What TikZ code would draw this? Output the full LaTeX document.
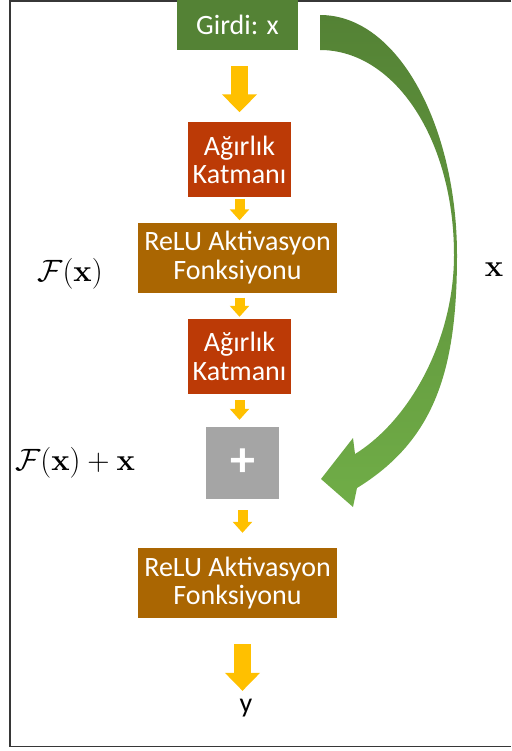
\documentclass[tikz,border=0pt]{standalone}
\usepackage{graphicx}
\usepackage[no-math]{fontspec}
\newfontfamily\boxfont{Carlito}
\usetikzlibrary{arrows.meta}

\definecolor{inputgreen}{RGB}{84,130,53}
\definecolor{skipdark}{RGB}{84,130,53}
\definecolor{skipmid}{RGB}{92,142,58}
\definecolor{skiplight}{RGB}{112,173,71}
\definecolor{weightred}{RGB}{188,58,6}
\definecolor{relubrown}{RGB}{170,102,2}
\definecolor{sumgray}{RGB}{165,165,165}
\definecolor{flowyellow}{RGB}{255,192,0}
\definecolor{framegray}{RGB}{55,55,55}

\newcommand{\biglabel}[1]{\scalebox{1.24}{\Huge$#1$}}

\tikzset{
  block/.style={rectangle, inner sep=0pt, text=white, align=center,
    font=\boxfont\fontsize{28}{28.5}\selectfont},
  inputbox/.style={block, fill=inputgreen},
  weightbox/.style={block, fill=weightred, minimum width=103pt, minimum height=75pt},
  relubox/.style={block, fill=relubrown, minimum width=199pt, minimum height=70pt},
  sumbox/.style={block, fill=sumgray, minimum width=73pt, minimum height=72pt,
    font=\boxfont\bfseries\fontsize{50}{50}\selectfont},
  mathlabel/.style={inner sep=0pt},
  outlabel/.style={inner sep=0pt, font=\boxfont\fontsize{28}{30}\selectfont},
  flowsmall/.style={draw=flowyellow, line width=10pt,
    -{Triangle[width=19pt,length=11pt]}, flowyellow},
  flowbig/.style={draw=flowyellow, line width=17pt,
    -{Triangle[width=34pt,length=18pt]}, flowyellow},
  frameline/.style={draw=framegray, line width=1.6pt},
}

\begin{document}
\begin{tikzpicture}[x=1pt,y=-1pt]
\useasboundingbox (0,0) rectangle (511,751);

% page frame (top, left and bottom edges)
\draw[frameline] (511,0.8) -- (10,0.8) -- (10,746.5) -- (511,746.5);

% main column
\node[inputbox, minimum width=121pt, minimum height=50pt] (girdi) at (237.5,25) {Girdi: x};
\node[weightbox] (ag1) at (239.5,160) {Ağırlık\\Katmanı};
\node[relubox] (relu1) at (237.5,257.5) {ReLU Aktivasyon\\Fonksiyonu};
\node[weightbox] (ag2) at (239.5,356.5) {Ağırlık\\Katmanı};
\node[sumbox] (sum) at (242.5,463) {+};
\node[relubox] (relu2) at (237.5,583) {ReLU Aktivasyon\\Fonksiyonu};
\node[outlabel] (out) at (246,708) {y};

% side labels
\node[mathlabel] (fx) at (70,274) {\biglabel{\mathcal{F}(\mathbf{x})}};
\node[mathlabel] (fxx) at (75,463) {\biglabel{\mathcal{F}(\mathbf{x})+\mathbf{x}}};
\node[mathlabel] (xlab) at (494,270) {\biglabel{\mathbf{x}}};

% block arrows between stages
\draw[flowbig, shorten <=16pt, shorten >=10pt] (girdi.south -| ag1.south) -- (ag1.north);
\draw[flowsmall, shorten <=1pt, shorten >=2pt] (ag1.south) -- (ag1.south |- relu1.north);
\draw[flowsmall, shorten <=5pt, shorten >=2pt] (relu1.south -| ag2.south) -- (ag2.north);
\draw[flowsmall, shorten <=6pt, shorten >=7pt] (ag2.south) -- (ag2.south |- sum.north);
\draw[flowsmall, shorten <=11pt, shorten >=15pt] (sum.south) -- (sum.south |- relu2.north);
\draw[flowbig, shorten <=26pt, shorten >=8pt] (relu2.south -| sum.south) -- (sum.south |- out.north);

% curved identity shortcut
\shade[top color=skipdark, middle color=skipmid, bottom color=skiplight]
  (320,15) .. controls (400,15) and (457,130) .. (457,255)
  .. controls (457,370) and (435,440) .. (357,488)
  -- (353,507) -- (321,479) -- (353,438) -- (355,454)
  .. controls (410,420) and (454,340) .. (454,255)
  .. controls (454,140) and (395,50) .. (320,50) -- cycle;
\end{tikzpicture}
\end{document}
